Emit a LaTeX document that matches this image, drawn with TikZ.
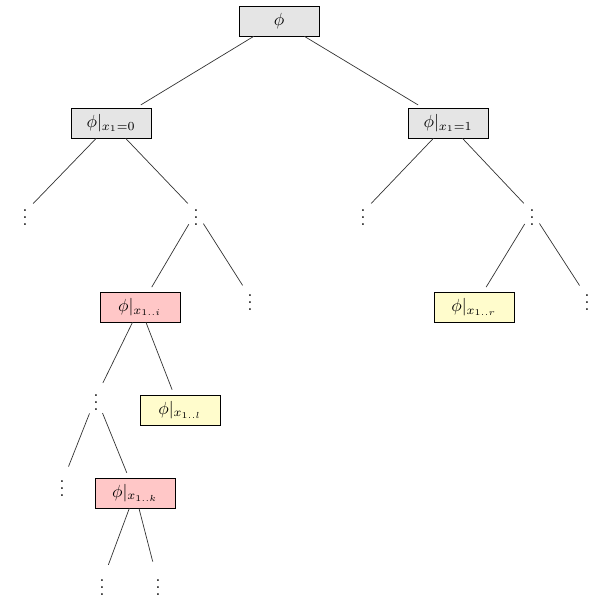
\documentclass[tikz,border=0pt]{standalone}
\usepackage{amsmath}
\usepackage{tikz}
\usetikzlibrary{positioning}

\begin{document}
\begin{tikzpicture}[
    x=0.02cm, y=-0.02cm,
    % Styles
    greybox/.style={
        rectangle, draw=black, fill=gray!20,
        minimum width=1.6cm, minimum height=0.6cm
    },
    pinkbox/.style={greybox, fill=red!22},
    yellowbox/.style={greybox, fill=yellow!20},
    dots/.style={inner sep=1pt},
    edge/.style={draw=black!80, thin, shorten >=3pt},
    dedge/.style={edge, shorten <=3pt}
]
\useasboundingbox (0,0) rectangle (602,600);

% === TOP LEVELS ===
\node (root) [greybox] at (279, 21) {$\phi$};
\node (left) [greybox] at (111, 123) {$\phi|_{x_1=0}$};
\node (right) [greybox] at (448, 123) {$\phi|_{x_1=1}$};

% === DOTS ===
\node (dLL) [dots] at (25, 212) {$\vdots$};
\node (dLR) [dots] at (196, 212) {$\vdots$};
\node (dRL) [dots] at (363, 212) {$\vdots$};
\node (dRR) [dots] at (532, 212) {$\vdots$};

% === DEEPER ===
\node (xi) [pinkbox] at (140, 307) {$\phi|_{x_{1..i}}$};
\node (dI) [dots] at (250, 297) {$\vdots$};
\node (xr) [yellowbox] at (474, 307) {$\phi|_{x_{1..r}}$};
\node (dR) [dots] at (587, 297) {$\vdots$};
\node (dK) [dots] at (96, 397) {$\vdots$};
\node (xl) [yellowbox] at (180, 410) {$\phi|_{x_{1..l}}$};
\node (dM) [dots] at (62, 483) {$\vdots$};
\node (xk) [pinkbox] at (135, 493) {$\phi|_{x_{1..k}}$};
\node (dA) [dots] at (102, 582) {$\vdots$};
\node (dB) [dots] at (158, 582) {$\vdots$};

% === EDGES ===
\draw [edge] (root) -- (left);
\draw [edge] (root) -- (right);
\draw [edge] (left) -- (dLL);
\draw [edge] (left) -- (dLR);
\draw [edge] (right) -- (dRL);
\draw [edge] (right) -- (dRR);
\draw [dedge] (dLR) -- (xi);
\draw [dedge] (dLR) -- (dI);
\draw [dedge] (dRR) -- (xr);
\draw [dedge] (dRR) -- (dR);
\draw [edge] (xi) -- (dK);
\draw [edge] (xi) -- (xl);
\draw [dedge] (dK) -- (dM);
\draw [dedge] (dK) -- (xk);
\draw [edge] (xk) -- (dA);
\draw [edge] (xk) -- (dB);

\end{tikzpicture}
\end{document}
